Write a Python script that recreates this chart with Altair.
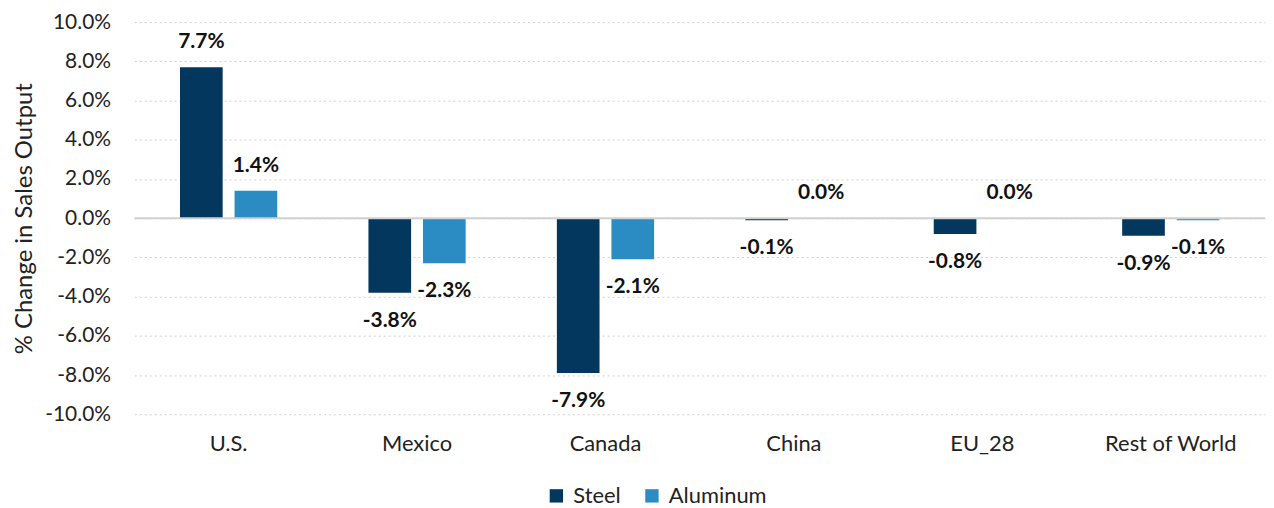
import altair as alt
import pandas as pd

categories = ["U.S.", "Mexico", "Canada", "China", "EU_28", "Rest of World"]
steel = [7.7, -3.8, -7.9, -0.1, -0.8, -0.9]
aluminum = [1.4, -2.3, -2.1, 0.0, 0.0, -0.1]
series = ["Steel", "Aluminum"]
colors = ["#04375E", "#2B8CC3"]
y_ticks = [-10, -8, -6, -4, -2, 0, 2, 4, 6, 8, 10]

rows = []
for i, c in enumerate(categories):
    rows.append({"cat": c, "series": "Steel", "value": steel[i]})
    rows.append({"cat": c, "series": "Aluminum", "value": aluminum[i]})
df = pd.DataFrame(rows)

FONT = "Lato"
FMT = "replace(format(datum.value, '.1f'), '\u2212', '-') + '%'"

xenc = alt.X("cat:N", sort=categories, title=None,
             scale=alt.Scale(paddingInner=0, paddingOuter=0),
             axis=alt.Axis(labelAngle=0, domain=False, ticks=False, labelPadding=19,
                           labelFontSize=22, labelColor="#222222", labelFont=FONT))
yenc = alt.Y("value:Q", title="% Change in Sales Output",
             scale=alt.Scale(domain=[-10, 10], nice=False),
             axis=alt.Axis(values=y_ticks, labelExpr=FMT, labelOverlap=False,
                           domain=False, ticks=False, labelPadding=24, labelFontSize=21,
                           labelColor="#222222", labelFont=FONT,
                           titleFontSize=24, titleFont=FONT, titleFontWeight="normal",
                           titleColor="#222222", titlePadding=8,
                           grid=True, gridColor="#D0D0D0", gridDash=[2, 3], gridWidth=1))
xoff = alt.XOffset("series:N", sort=series,
                   scale=alt.Scale(paddingInner=0.218, paddingOuter=0.836))
color = alt.Color("series:N", sort=series, title=None,
                  scale=alt.Scale(domain=series, range=colors),
                  legend=alt.Legend(orient="none", legendX=413, legendY=465, direction="horizontal",
                                    symbolType="square", symbolSize=180, symbolStrokeWidth=0,
                                    labelFontSize=22, labelFont=FONT, labelColor="#222222",
                                    columnPadding=20, labelOffset=6))

base = alt.Chart(df)

bars = base.mark_bar().encode(x=xenc, y=yenc, xOffset=xoff, color=color)

zero = alt.Chart(pd.DataFrame({"value": [0]})).mark_rule(color="#D0D0D0", strokeWidth=2).encode(y=yenc)

lab_common = dict(fontSize=21, fontWeight="bold", font=FONT, color="#111111", baseline="middle")
pos = base.transform_filter("datum.value >= 0").transform_calculate(
    lbl=FMT).mark_text(dy=-25, **lab_common).encode(
    x=xenc, y=yenc, xOffset=xoff, text="lbl:N")
neg = base.transform_filter("datum.value < 0").transform_calculate(
    lbl=FMT).mark_text(dy=28, **lab_common).encode(
    x=xenc, y=yenc, xOffset=xoff, text="lbl:N")

chart = alt.layer(bars, zero, pos, neg).properties(
    width=1136, height=394, padding={"left": 4, "top": 2, "right": 0, "bottom": 0}
).configure_view(stroke=None)

chart.save("out.html", embed_options={"renderer": "svg", "actions": False})
